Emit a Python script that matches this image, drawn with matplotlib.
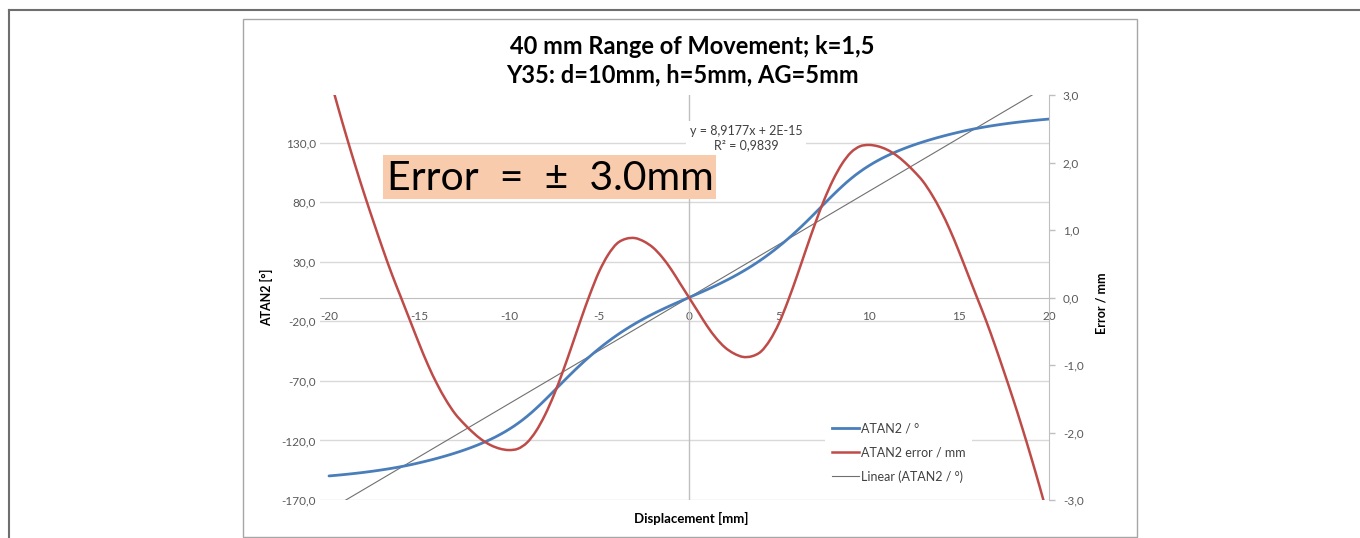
import numpy as np
import matplotlib
matplotlib.use('Agg')
import matplotlib.pyplot as plt
from matplotlib.lines import Line2D
from matplotlib.patches import Rectangle, PathPatch
from matplotlib.path import Path
from matplotlib.ticker import FuncFormatter

plt.rcParams['font.family'] = ['Lato', 'DejaVu Sans']
plt.rcParams['axes.unicode_minus'] = False

W, H = 1360, 538

# data (x step 0.5 mm)
displacement = np.arange(-20, 20.5, 0.5)
atan2_deg = [-149.8, -149.13, -148.39, -147.57, -146.67, -145.67, -144.57, -143.35, -142.0, -140.5,
             -138.8, -136.98, -135.02, -132.9, -130.6, -128.1, -125.35, -122.3, -118.9, -115.05,
             -110.65, -105.6, -99.8, -93.2, -86.0, -78.45, -70.8, -63.3, -56.1, -49.3,
             -42.95, -37.05, -31.6, -26.6, -22.0, -17.75, -13.8, -10.1, -6.6, -3.25,
             0.0,
             3.25, 6.6, 10.1, 13.8, 17.75, 22.0, 26.6, 31.6, 37.05, 42.95,
             49.3, 56.1, 63.3, 70.8, 78.45, 86.0, 93.2, 99.8, 105.6, 110.65,
             115.05, 118.9, 122.3, 125.35, 128.1, 130.6, 132.9, 135.02, 136.98, 138.8,
             140.5, 142.0, 143.35, 144.57, 145.67, 146.67, 147.57, 148.39, 149.13, 149.8]
atan2_err = [3.30, 2.82, 2.36, 1.92, 1.50, 1.10, 0.71, 0.34, 0.00, -0.34,
             -0.68, -1.00, -1.28, -1.52, -1.72, -1.87, -2.00, -2.11, -2.19, -2.24,
             -2.26, -2.24, -2.15, -1.98, -1.74, -1.44, -1.09, -0.71, -0.32, 0.05,
             0.38, 0.63, 0.80, 0.87, 0.88, 0.83, 0.74, 0.60, 0.42, 0.21,
             0.0,
             -0.21, -0.42, -0.60, -0.74, -0.83, -0.88, -0.87, -0.80, -0.63, -0.38,
             -0.05, 0.32, 0.71, 1.09, 1.44, 1.74, 1.98, 2.15, 2.24, 2.26,
             2.24, 2.19, 2.11, 2.00, 1.87, 1.72, 1.52, 1.28, 1.00, 0.68,
             0.34, 0.00, -0.34, -0.71, -1.10, -1.50, -1.92, -2.36, -2.82, -3.30]
trend_slope = 8.9177
trend_icpt = 0.0
trend_x = np.array([-20.0, 20.0])

x_ticks = [-20, -15, -10, -5, 0, 5, 10, 15, 20]
left_ticks = [-170, -120, -70, -20, 30, 80, 130]
right_ticks = [-3, -2, -1, 0, 1, 2, 3]

BLUE = '#4a7ebb'
RED = '#be4b48'
TREND = '#707070'


def fx(px):
    return px / W


def fy(py):
    return 1 - py / H


def smooth_line(a, xs, ys, color, lw, z):
    # Excel style smoothed line: bezier segments through every data point
    p = np.column_stack([xs, ys]).astype(float)
    p_ext = np.vstack([p[0], p, p[-1]])
    verts = [p[0]]
    codes = [Path.MOVETO]
    for i in range(len(p) - 1):
        p0, p1, p2, p3 = p_ext[i], p_ext[i + 1], p_ext[i + 2], p_ext[i + 3]
        verts += [p1 + (p2 - p0) / 6, p2 - (p3 - p1) / 6, p2]
        codes += [Path.CURVE4] * 3
    a.add_patch(PathPatch(Path(verts, codes), fill=False, edgecolor=color, lw=lw, zorder=z,
                          capstyle='round', joinstyle='round'))


comma = FuncFormatter(lambda v, p: f'{v:.1f}'.replace('.', ','))

fig = plt.figure(figsize=(13.6, 5.38), dpi=100)
ax = fig.add_axes([fx(320), fy(500), (1049 - 320) / W, (500 - 95) / H])
ax.set_xlim(-20.5, 20)
ax.set_ylim(-170, 170)
ax2 = ax.twinx()
ax2.set_ylim(-3, 3)

# left axis + grid
ax.set_yticks(left_ticks)
ax.yaxis.set_major_formatter(comma)
ax.yaxis.grid(True, color='#d9d9d9', lw=1)
ax.set_axisbelow(True)
for s in ['top', 'right', 'left']:
    ax.spines[s].set_visible(False)
ax.spines['bottom'].set_position(('data', 0))
ax.spines['bottom'].set_color('#bfbfbf')
ax.set_xticks(x_ticks)
ax.tick_params(axis='x', length=0, pad=9.5, labelsize=8.5, labelcolor='#595959')
ax.tick_params(axis='y', length=0, pad=3, labelsize=8.5, labelcolor='#595959')
ax.axvline(0, color='#bfbfbf', lw=1, zorder=1)

# right axis
for s in ['top', 'left', 'bottom']:
    ax2.spines[s].set_visible(False)
ax2.spines['right'].set_color('#bfbfbf')
ax2.set_yticks(right_ticks)
ax2.yaxis.set_major_formatter(comma)
ax2.tick_params(axis='y', length=4, width=1, color='#bfbfbf', pad=6, labelsize=8.5, labelcolor='#595959')

smooth_line(ax, displacement, atan2_deg, BLUE, 2.0, 3)
ax.plot(trend_x, trend_slope * trend_x + trend_icpt, color=TREND, lw=0.8, zorder=2)
smooth_line(ax2, displacement, atan2_err, RED, 1.8, 3)

handles = [Line2D([], [], color=BLUE, lw=2.0), Line2D([], [], color=RED, lw=1.8),
           Line2D([], [], color=TREND, lw=0.8)]
leg = ax2.legend(handles, ['ATAN2 / °', 'ATAN2 error / mm', 'Linear (ATAN2 / °)'],
                 loc='upper left', bbox_to_anchor=(fx(819), fy(410)), bbox_transform=fig.transFigure,
                 fontsize=9, handlelength=2.2, handletextpad=0.15, labelspacing=0.95,
                 frameon=True, fancybox=False, borderpad=0.5)
leg.get_frame().set_facecolor('white')
leg.get_frame().set_edgecolor('none')
leg.get_frame().set_alpha(1)
for t in leg.get_texts():
    t.set_color('#404040')

# titles and labels
fig.text(fx(692), fy(47), '40 mm Range of Movement; k=1,5', ha='center', va='center',
         fontsize=17, fontweight='bold')
fig.text(fx(682), fy(75), 'Y35: d=10mm, h=5mm, AG=5mm', ha='center', va='center',
         fontsize=17, fontweight='bold')
fig.text(fx(267), fy(297), 'ATAN2 [°]', rotation=90, ha='center', va='center',
         fontsize=9, fontweight='bold')
fig.text(fx(1101), fy(303), 'Error / mm', rotation=90, ha='center', va='center',
         fontsize=9, fontweight='bold')
fig.text(fx(691), fy(518), 'Displacement [mm]', ha='center', va='center',
         fontsize=9.5, fontweight='bold')

# trendline equation
fig.text(fx(746), fy(138), 'y = 8,9177x + 2E-15\nR² = 0,9839', ha='center', va='center',
         fontsize=9, color='#404040', linespacing=1.2, zorder=5,
         bbox=dict(facecolor='white', edgecolor='none', pad=3))

# highlighted note
fig.add_artist(Rectangle((fx(383), fy(199)), (716 - 383) / W, (199 - 155) / H,
                         transform=fig.transFigure, facecolor='#f8cbad', edgecolor='none', zorder=4))
fig.text(fx(387), fy(179), 'Error  =  ±  3.0mm', ha='left', va='center', fontsize=29.5, zorder=5)

# frames
fig.add_artist(Line2D([fx(9), 1], [fy(10), fy(10)], color='#6e6e6e', lw=1.5))
fig.add_artist(Line2D([fx(9), fx(9)], [fy(10), 0], color='#6e6e6e', lw=1.5))
fig.add_artist(Rectangle((fx(243), fy(537)), (1137 - 243) / W, (537 - 19) / H,
                         transform=fig.transFigure, fill=False, edgecolor='#a6a6a6', lw=1))

fig.savefig('out.png', dpi=100)
